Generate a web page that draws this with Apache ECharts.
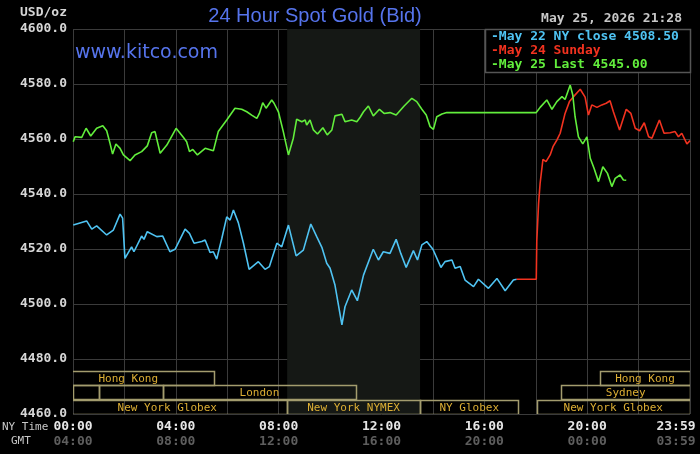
<!DOCTYPE html>
<html>
<head>
<meta charset="utf-8">
<title>24 Hour Spot Gold</title>
<script src="https://cdn.jsdelivr.net/npm/echarts@6/dist/echarts.min.js"></script>
<style>
  html, body { margin: 0; padding: 0; background: #000; }
  #chart { width: 700px; height: 454px; }
</style>
</head>
<body>
<div id="chart"></div>
<script>
// x values are hours of the New York day
const timeTicks = [0, 4, 8, 12, 16, 20, 24];
const nyLabels = ['00:00', '04:00', '08:00', '12:00', '16:00', '20:00', '23:59'];
const gmtLabels = ['04:00', '08:00', '12:00', '16:00', '20:00', '00:00', '03:59'];

// May 22 (blue)
const may22Hours = [0.01, 0.53, 0.73, 0.92, 1.31, 1.57, 1.83, 1.93, 2.02, 2.28, 2.37, 2.67, 2.76, 2.89,
  3.26, 3.49, 3.77, 3.97, 4.36, 4.53, 4.71, 5.01, 5.14, 5.33, 5.46, 5.59, 5.79, 5.98, 6.11, 6.24, 6.43,
  6.63, 6.85, 7.21, 7.47, 7.64, 7.93, 8.12, 8.18, 8.38, 8.68, 8.96, 9.25, 9.48, 9.68, 9.87, 10.0, 10.19,
  10.46, 10.58, 10.84, 11.06, 11.30, 11.68, 11.88, 12.07, 12.33, 12.57, 12.75, 12.96, 13.24, 13.40,
  13.57, 13.76, 14.0, 14.31, 14.47, 14.74, 14.86, 15.06, 15.25, 15.58, 15.77, 16.16, 16.49, 16.81,
  17.13, 17.26];
const may22Values = [4528.7, 4530.2, 4527.2, 4528.4, 4525.1, 4526.9, 4532.7, 4531.2, 4516.6, 4520.8,
  4519.0, 4524.7, 4523.5, 4526.3, 4524.5, 4524.7, 4519.0, 4519.9, 4527.2, 4525.7, 4522.1, 4522.7,
  4523.3, 4518.7, 4519.0, 4516.3, 4523.9, 4531.7, 4530.5, 4534.2, 4529.6, 4522.1, 4512.6, 4515.4,
  4512.6, 4513.6, 4522.1, 4520.8, 4521.5, 4528.7, 4517.5, 4519.6, 4529.1, 4524.5, 4520.6, 4514.8,
  4513.0, 4506.9, 4492.4, 4499.0, 4505.1, 4501.2, 4510.5, 4519.9, 4516.0, 4519.0, 4518.4, 4523.5,
  4518.4, 4513.3, 4519.4, 4516.0, 4521.5, 4522.7, 4519.9, 4513.3, 4515.4, 4516.0, 4513.0, 4513.6,
  4508.7, 4506.3, 4509.0, 4505.7, 4509.3, 4504.8, 4508.7, 4509.0];

// May 24 Sunday (red)
const may24Hours = [17.26, 18.02, 18.04, 18.11, 18.17, 18.28, 18.40, 18.56, 18.67, 18.82, 18.95, 19.14,
  19.31, 19.47, 19.73, 19.92, 20.05, 20.18, 20.38, 20.57, 20.74, 20.89, 21.02, 21.26, 21.52, 21.70,
  21.87, 22.04, 22.22, 22.39, 22.52, 22.81, 22.99, 23.23, 23.42, 23.55, 23.68, 23.88, 24.0];
const may24Values = [4509.0, 4509.0, 4522.7, 4536.6, 4543.9, 4552.6, 4551.8, 4554.2, 4557.2, 4559.6,
  4562.1, 4569.3, 4573.6, 4575.4, 4578.1, 4575.2, 4568.7, 4572.4, 4571.5, 4572.4, 4573.0, 4573.9,
  4569.9, 4563.3, 4570.8, 4569.3, 4563.9, 4563.0, 4565.9, 4560.8, 4560.3, 4566.9, 4562.1, 4562.3,
  4562.7, 4560.8, 4562.1, 4558.2, 4559.4];

// May 25 (green)
const may25Hours = [0.01, 0.08, 0.34, 0.51, 0.69, 0.92, 1.16, 1.31, 1.44, 1.54, 1.67, 1.83, 1.96, 2.22,
  2.41, 2.67, 2.89, 3.06, 3.19, 3.39, 3.65, 4.01, 4.29, 4.42, 4.53, 4.66, 4.84, 5.14, 5.46, 5.65, 5.98,
  6.30, 6.56, 6.76, 6.95, 7.15, 7.25, 7.38, 7.51, 7.73, 7.82, 7.99, 8.05, 8.18, 8.38, 8.57, 8.70, 8.90,
  9.03, 9.09, 9.22, 9.35, 9.51, 9.72, 9.89, 10.07, 10.19, 10.46, 10.58, 10.84, 11.04, 11.17, 11.30,
  11.49, 11.68, 11.92, 12.10, 12.33, 12.57, 12.88, 13.18, 13.37, 13.57, 13.74, 13.89, 14.02, 14.15,
  14.35, 14.54, 18.02, 18.17, 18.43, 18.63, 18.82, 19.02, 19.14, 19.34, 19.44, 19.53, 19.66, 19.83,
  19.99, 20.12, 20.27, 20.44, 20.61, 20.79, 20.96, 21.09, 21.28, 21.41, 21.52];
const may25Values = [4559.0, 4560.8, 4560.6, 4563.9, 4561.1, 4563.9, 4564.8, 4563.0, 4558.4, 4554.5,
  4558.2, 4556.6, 4554.2, 4552.1, 4554.2, 4555.4, 4557.5, 4562.3, 4562.7, 4554.8, 4557.8, 4563.9,
  4560.6, 4559.0, 4555.4, 4556.2, 4554.2, 4556.6, 4555.7, 4562.7, 4566.9, 4571.2, 4570.8, 4569.9,
  4568.7, 4567.5, 4569.3, 4573.2, 4571.2, 4574.2, 4573.0, 4569.9, 4569.9, 4562.7, 4554.2, 4560.3,
  4567.2, 4566.3, 4566.9, 4565.1, 4566.9, 4563.3, 4561.8, 4564.1, 4561.5, 4563.3, 4568.4, 4569.0,
  4566.3, 4566.9, 4566.3, 4567.9, 4569.9, 4572.0, 4568.4, 4570.8, 4569.3, 4569.6, 4568.7, 4572.0,
  4574.8, 4573.6, 4570.8, 4568.7, 4564.5, 4563.5, 4568.1, 4569.1, 4569.6, 4569.6, 4571.5, 4574.2,
  4570.8, 4573.6, 4575.4, 4574.4, 4579.6, 4576.0, 4568.1, 4560.8, 4558.2, 4560.8, 4553.0, 4549.3,
  4544.5, 4549.9, 4547.5, 4542.7, 4545.7, 4546.9, 4545.1, 4545.0];

// trading sessions: name, open hour, close hour, row (0 = bottom)
const sessions = [
  ['Hong Kong', -1.2, 5.5, 2],
  ['Hong Kong', 20.5, 24, 2],
  ['', 0, 1, 1],
  ['', 1, 3.5, 1],
  ['London', 3.5, 11, 1],
  ['Sydney', 19, 24, 1],
  ['New York Globex', -1, 8.33, 0],
  ['New York NYMEX', 8.33, 13.5, 0],
  ['NY Globex', 13.5, 17.33, 0],
  ['New York Globex', 18.03, 24, 0]
];
const nymexOpen = 8.33;
const nymexClose = 13.5;

const legendLines = [
  ['-May 22 NY close 4508.50', '#4fc3f2'],
  ['-May 24 Sunday', '#f2321f'],
  ['-May 25 Last 4545.00', '#62ee3c']
];

const MONO = '"DejaVu Sans Mono", monospace';
const ROW_BASE = 4460;
const ROW_H = 5.2;

const zip = (xs, ys) => xs.map((x, i) => [x, ys[i]]);

const chart = echarts.init(document.getElementById('chart'));

const option = {
  backgroundColor: '#000',
  animation: false,
  grid: { left: 73, right: 10, top: 29, bottom: 40, containLabel: false, outerBoundsMode: 'none' },
  xAxis: {
    type: 'value',
    min: 0,
    max: 24,
    interval: 2,
    axisLine: { show: false },
    axisTick: { show: false },
    splitLine: { show: true, lineStyle: { color: '#3b3b3b', width: 1 } },
    axisLabel: {
      margin: 5,
      showMinLabel: true,
      showMaxLabel: true,
      hideOverlap: false,
      formatter: function (v) {
        const i = timeTicks.indexOf(v);
        if (i < 0) return '';
        if (v === 24) return '{nyR|' + nyLabels[i] + '}\n{gmtR|' + gmtLabels[i] + '}';
        return '{ny|' + nyLabels[i] + '}\n{gmt|' + gmtLabels[i] + '}';
      },
      rich: {
        ny: { color: '#e6e6e6', fontFamily: MONO, fontSize: 13, fontWeight: 'bold', lineHeight: 15 },
        gmt: { color: '#5e5e5e', fontFamily: MONO, fontSize: 13, fontWeight: 'bold', lineHeight: 15 },
        nyR: { color: '#e6e6e6', fontFamily: MONO, fontSize: 13, fontWeight: 'bold', lineHeight: 15, padding: [0, 28, 0, 0] },
        gmtR: { color: '#5e5e5e', fontFamily: MONO, fontSize: 13, fontWeight: 'bold', lineHeight: 15, padding: [0, 28, 0, 0] }
      }
    }
  },
  yAxis: {
    type: 'value',
    min: 4460,
    max: 4600,
    interval: 20,
    axisLine: { show: false },
    axisTick: { show: false },
    splitLine: { show: true, lineStyle: { color: '#3b3b3b', width: 1 } },
    axisLabel: {
      margin: 6,
      color: '#d6d6d6',
      fontFamily: MONO,
      fontSize: 13,
      fontWeight: 'bold',
      formatter: v => v.toFixed(1)
    }
  },
  series: [
    {
      // NYMEX shading + session boxes
      type: 'custom',
      clip: true,
      z: 1,
      silent: true,
      data: sessions.map(s => [s[1], s[2], s[3], s[0]]),
      renderItem: function (params, api) {
        const row = api.value(2);
        const p0 = api.coord([api.value(0), ROW_BASE + (row + 1) * ROW_H]);
        const p1 = api.coord([api.value(1), ROW_BASE + row * ROW_H]);
        const name = api.value(3);
        return {
          type: 'group',
          children: [
            {
              type: 'rect',
              shape: { x: Math.round(p0[0]) + 0.5, y: Math.round(p0[1]) + 0.5,
                width: Math.round(p1[0] - p0[0]), height: Math.round(p1[1] - p0[1]) },
              style: { fill: 'none', stroke: '#a39c6e', lineWidth: 1.5 }
            },
            {
              type: 'text',
              style: {
                text: name, x: (p0[0] + p1[0]) / 2, y: (p0[1] + p1[1]) / 2 + 1,
                align: 'center', verticalAlign: 'middle',
                fill: '#dcae34', font: '11px ' + MONO
              }
            }
          ]
        };
      },
      markArea: {
        silent: true,
        itemStyle: { color: '#151815' },
        data: [[{ xAxis: nymexOpen }, { xAxis: nymexClose }]]
      }
    },
    {
      name: 'May 22',
      type: 'line',
      showSymbol: false,
      z: 3,
      lineStyle: { color: '#4fc3f2', width: 1.6 },
      data: zip(may22Hours, may22Values)
    },
    {
      name: 'May 24',
      type: 'line',
      showSymbol: false,
      z: 4,
      lineStyle: { color: '#f2321f', width: 1.6 },
      data: zip(may24Hours, may24Values)
    },
    {
      name: 'May 25',
      type: 'line',
      showSymbol: false,
      z: 5,
      lineStyle: { color: '#62ee3c', width: 1.6 },
      data: zip(may25Hours, may25Values)
    }
  ],
  graphic: [
    { type: 'text', left: 20, top: 6, style: { text: 'USD/oz', fill: '#d6d6d6', font: 'bold 13px ' + MONO } },
    { type: 'text', x: 315, y: 16, style: { text: '24 Hour Spot Gold (Bid)', align: 'center', verticalAlign: 'middle',
      fill: '#5674ec', font: '20px "Liberation Sans", Arial, sans-serif' } },
    { type: 'text', x: 75, y: 53, z: 10, style: { text: 'www.kitco.com', verticalAlign: 'middle',
      fill: '#5674ec', font: '19px "DejaVu Sans", sans-serif' } },
    { type: 'text', x: 682, y: 19, style: { text: 'May 25, 2026 21:28', align: 'right', verticalAlign: 'middle',
      fill: '#c8c8c8', font: 'bold 13px ' + MONO } },
    { type: 'rect', z: 20, shape: { x: 485.5, y: 29.5, width: 205, height: 43 },
      style: { fill: '#000', stroke: '#555', lineWidth: 1.5 } },
    ...legendLines.map((l, i) => ({
      type: 'text', z: 21, x: 491, y: 36.5 + i * 14,
      style: { text: l[0], fill: l[1], verticalAlign: 'middle', font: 'bold 13px ' + MONO }
    })),
    { type: 'text', x: 2, y: 427, style: { text: 'NY Time', fill: '#c8c8c8', verticalAlign: 'middle', font: '11px ' + MONO } },
    { type: 'text', x: 11, y: 441, style: { text: 'GMT', fill: '#c8c8c8', verticalAlign: 'middle', font: '11px ' + MONO } }
  ]
};

chart.setOption(option);
</script>
</body>
</html>
